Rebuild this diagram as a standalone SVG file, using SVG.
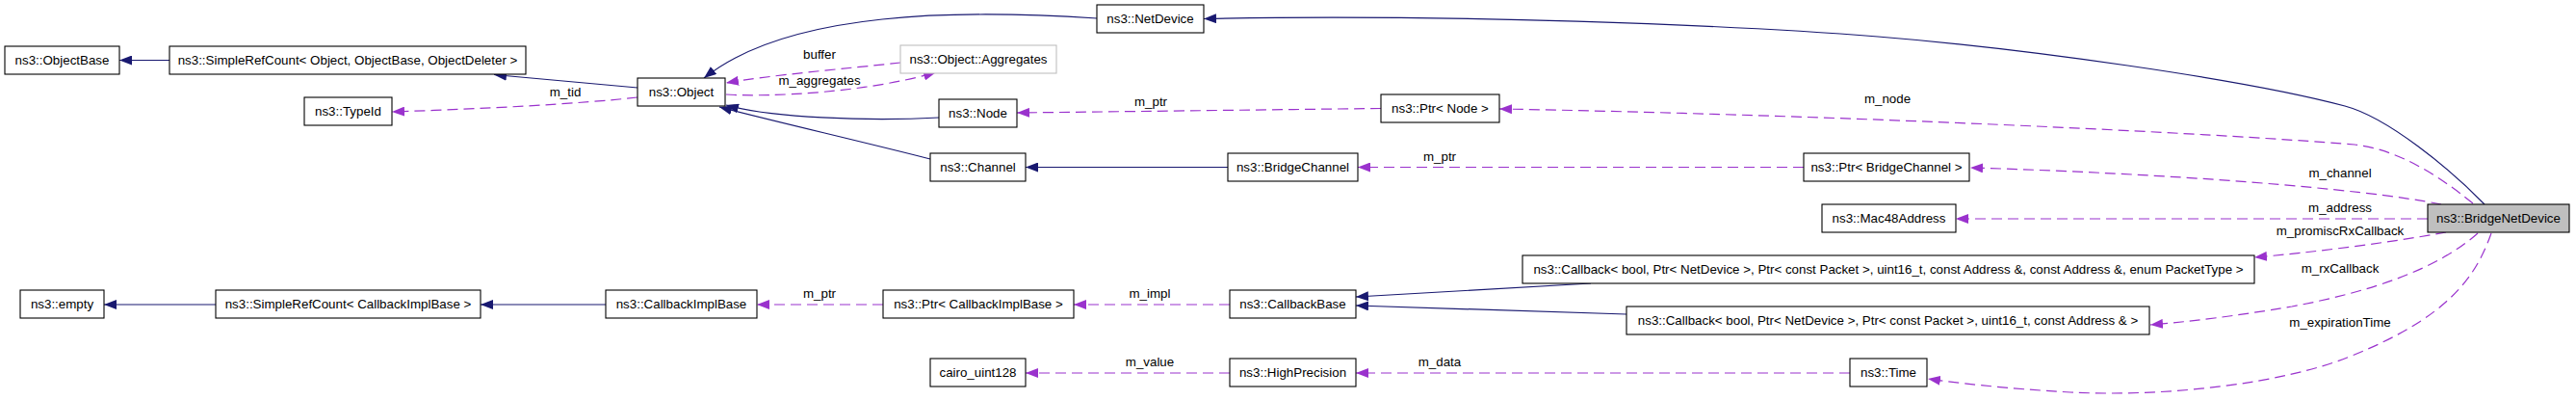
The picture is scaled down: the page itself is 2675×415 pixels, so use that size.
<svg xmlns="http://www.w3.org/2000/svg" width="2675" height="415" viewBox="0 0 2675 415">
<style>
  .n rect { fill: #ffffff; stroke: #000000; stroke-width: 1.1; }
  .n text { font-family: "Liberation Sans", Arial, Helvetica, sans-serif; font-size: 13.33px; fill: #000000; text-anchor: middle; }
  .n.gray rect { stroke: #bfbfbf; }
  .n.main rect { fill: #bfbfbf; }
  .inh { fill: none; stroke: #191970; stroke-width: 1.2; marker-end: url(#ahn); }
  .use { fill: none; stroke: #9a32cd; stroke-width: 1.2; stroke-dasharray: 11 6; marker-end: url(#ahp); }
  .lbl { font-family: "Liberation Sans", Arial, Helvetica, sans-serif; font-size: 13.33px; fill: #000000; text-anchor: middle; }
</style>
<defs>
  <marker id="ahn" viewBox="0 0 13 10" refX="13" refY="5" markerWidth="13" markerHeight="10" markerUnits="userSpaceOnUse" orient="auto">
    <path d="M0,0 L13,5 L0,10 z" fill="#191970"/>
  </marker>
  <marker id="ahp" viewBox="0 0 13 10" refX="13" refY="5" markerWidth="13" markerHeight="10" markerUnits="userSpaceOnUse" orient="auto">
    <path d="M0,0 L13,5 L0,10 z" fill="#9a32cd"/>
  </marker>
</defs>
<rect x="0" y="0" width="2675" height="415" fill="#ffffff"/>

<g id="connectors">
  <!-- inheritance -->
  <path class="inh" d="M176,62.5 L124,62.5"/>
  <path class="inh" d="M662,91 L513,77.5"/>
  <path class="inh" d="M1139,19 C1000,10 820,10 731,81"/>
  <path class="inh" d="M975,122 C900,126 800,122 754,109"/>
  <path class="inh" d="M966,165 C900,148 800,125 747,111"/>
  <path class="inh" d="M1275,173.5 L1065,173.5"/>
  <path class="inh" d="M2580,212 C2545,176 2480,122 2435,110 C2330,82 2100,50 1950,38 C1800,26 1500,14 1250,19.5"/>
  <path class="inh" d="M629,316 L499,316"/>
  <path class="inh" d="M224,316 L108,316"/>
  <path class="inh" d="M1652,294 L1408,308"/>
  <path class="inh" d="M1689,326 L1408,317"/>
  <!-- usage -->
  <path class="use" d="M662,101 C600,108 500,113 407,116"/>
  <path class="use" d="M935,65 C880,71 800,78 754,86"/>
  <path class="use" d="M754,98 C800,101 900,96 972,75"/>
  <path class="use" d="M1434,112.5 C1300,114 1150,116 1056,117"/>
  <path class="use" d="M2568,211 C2549,196 2500,156 2445,150 C2300,138 1900,119 1557,113"/>
  <path class="use" d="M2535,212 C2450,195 2250,180 2046,174"/>
  <path class="use" d="M2521,227 L2031,227"/>
  <path class="use" d="M2540,241 C2480,252 2400,262 2341,267"/>
  <path class="use" d="M2573,242 C2530,280 2460,303 2380,318 C2320,328 2280,333 2233,337"/>
  <path class="use" d="M2587,242 C2570,290 2540,330 2440,370 C2370,398 2250,412 2150,407 C2080,403 2030,397 2002,393"/>
  <path class="use" d="M1277,316 L1115,316"/>
  <path class="use" d="M917,316 L786,316"/>
  <path class="use" d="M1277,387 L1065,387"/>
  <path class="use" d="M1921,387 L1408,387"/>
  <path class="use" d="M1873,173.5 L1410,173.5"/>
  <!-- labels -->
  <text class="lbl" x="587" y="100">m_tid</text>
  <text class="lbl" x="851" y="61">buffer</text>
  <text class="lbl" x="851" y="88">m_aggregates</text>
  <text class="lbl" x="1195" y="110">m_ptr</text>
  <text class="lbl" x="1960" y="107">m_node</text>
  <text class="lbl" x="1495" y="167">m_ptr</text>
  <text class="lbl" x="2430" y="184">m_channel</text>
  <text class="lbl" x="2430" y="220">m_address</text>
  <text class="lbl" x="2430" y="244">m_promiscRxCallback</text>
  <text class="lbl" x="2430" y="283">m_rxCallback</text>
  <text class="lbl" x="2430" y="339">m_expirationTime</text>
  <text class="lbl" x="851" y="309">m_ptr</text>
  <text class="lbl" x="1194" y="309">m_impl</text>
  <text class="lbl" x="1194" y="380">m_value</text>
  <text class="lbl" x="1495" y="380">m_data</text>
</g>

<g id="objectbase" class="n"><rect x="5" y="48" width="119" height="29"/><text x="64.5" y="67">ns3::ObjectBase</text></g>
<g id="simplerefcount_object" class="n"><rect x="176" y="48" width="370" height="29"/><text x="361" y="67">ns3::SimpleRefCount&lt; Object, ObjectBase, ObjectDeleter &gt;</text></g>
<g id="typeid" class="n"><rect x="316" y="101" width="91" height="29"/><text x="361.5" y="120">ns3::TypeId</text></g>
<g id="object" class="n"><rect x="662" y="81" width="91" height="29"/><text x="707.5" y="100">ns3::Object</text></g>
<g id="netdevice" class="n"><rect x="1139" y="5" width="111" height="29"/><text x="1194.5" y="24">ns3::NetDevice</text></g>
<g id="aggregates" class="n gray"><rect x="935" y="47" width="162" height="29"/><text x="1016" y="66">ns3::Object::Aggregates</text></g>
<g id="node" class="n"><rect x="975" y="103" width="81" height="29"/><text x="1015.5" y="122">ns3::Node</text></g>
<g id="channel" class="n"><rect x="966" y="159" width="99" height="29"/><text x="1015.5" y="178">ns3::Channel</text></g>
<g id="ptr_node" class="n"><rect x="1434" y="98" width="123" height="29"/><text x="1495.5" y="117">ns3::Ptr&lt; Node &gt;</text></g>
<g id="bridgechannel" class="n"><rect x="1275" y="159" width="135" height="29"/><text x="1342.5" y="178">ns3::BridgeChannel</text></g>
<g id="ptr_bridgechannel" class="n"><rect x="1873" y="159" width="172" height="29"/><text x="1959" y="178">ns3::Ptr&lt; BridgeChannel &gt;</text></g>
<g id="mac48address" class="n"><rect x="1892" y="212" width="139" height="29"/><text x="1961.5" y="231">ns3::Mac48Address</text></g>
<g id="bridgenetdevice" class="n main"><rect x="2521" y="212" width="147" height="29"/><text x="2594.5" y="231">ns3::BridgeNetDevice</text></g>
<g id="callback_promisc" class="n"><rect x="1581" y="265" width="760" height="29"/><text x="1961" y="284">ns3::Callback&lt; bool, Ptr&lt; NetDevice &gt;, Ptr&lt; const Packet &gt;, uint16_t, const Address &amp;, const Address &amp;, enum PacketType &gt;</text></g>
<g id="callback_rx" class="n"><rect x="1689" y="318" width="543" height="29"/><text x="1960.5" y="337">ns3::Callback&lt; bool, Ptr&lt; NetDevice &gt;, Ptr&lt; const Packet &gt;, uint16_t, const Address &amp; &gt;</text></g>
<g id="empty" class="n"><rect x="21" y="301" width="87" height="29"/><text x="64.5" y="320">ns3::empty</text></g>
<g id="simplerefcount_cb" class="n"><rect x="224" y="301" width="275" height="29"/><text x="361.5" y="320">ns3::SimpleRefCount&lt; CallbackImplBase &gt;</text></g>
<g id="callbackimplbase" class="n"><rect x="629" y="301" width="157" height="29"/><text x="707.5" y="320">ns3::CallbackImplBase</text></g>
<g id="ptr_callbackimplbase" class="n"><rect x="917" y="301" width="198" height="29"/><text x="1016" y="320">ns3::Ptr&lt; CallbackImplBase &gt;</text></g>
<g id="callbackbase" class="n"><rect x="1277" y="301" width="131" height="29"/><text x="1342.5" y="320">ns3::CallbackBase</text></g>
<g id="cairo_uint128" class="n"><rect x="966" y="372" width="99" height="29"/><text x="1015.5" y="391">cairo_uint128</text></g>
<g id="highprecision" class="n"><rect x="1277" y="372" width="131" height="29"/><text x="1342.5" y="391">ns3::HighPrecision</text></g>
<g id="time" class="n"><rect x="1921" y="372" width="80" height="29"/><text x="1961" y="391">ns3::Time</text></g>
</svg>
